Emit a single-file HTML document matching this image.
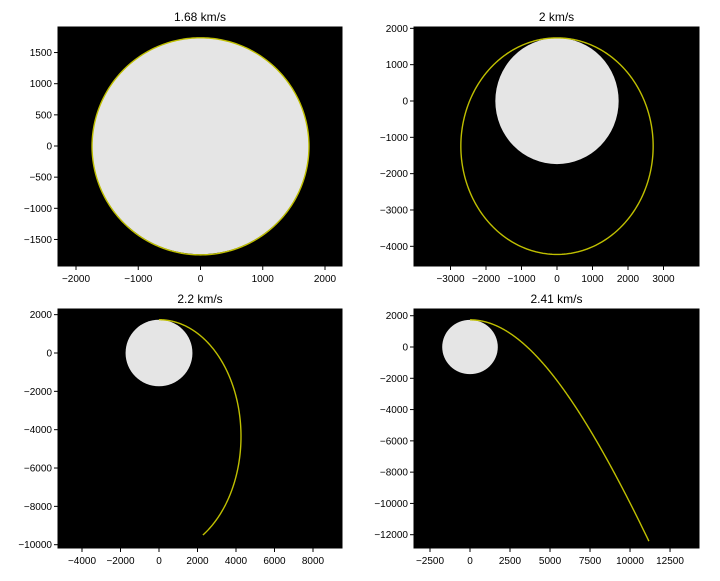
<!DOCTYPE html>
<html><head><meta charset="utf-8"><style>
body{margin:0;background:#fff;width:720px;height:576px;overflow:hidden;font-family:"Liberation Sans",sans-serif}
svg text{font-family:"Liberation Sans",sans-serif}
</style></head><body>
<svg id="fig" width="720" height="576" xmlns="http://www.w3.org/2000/svg"></svg>
<script>
// data
const speeds = [1.68, 2, 2.2, 2.41];           // launch speeds km/s
const titles = ["1.68 km/s", "2 km/s", "2.2 km/s", "2.41 km/s"];
const endAnglesDeg = [360, 360, 166.5, 138];    // final true anomaly of trajectory
const moonRadius = 1737;
const GM = 4902.8;
const xTicks = [[-2000,-1000,0,1000,2000],[-3000,-2000,-1000,0,1000,2000,3000],[-4000,-2000,0,2000,4000,6000,8000],[-2500,0,2500,5000,7500,10000,12500]];
const yTicks = [[-1500,-1000,-500,0,500,1000,1500],[-4000,-3000,-2000,-1000,0,1000,2000],[-10000,-8000,-6000,-4000,-2000,0,2000],[-12000,-10000,-8000,-6000,-4000,-2000,0,2000]];
const xLims = [[-2289,2273],[-4028,4000],[-5247,9506],[-3500,14310]];
const yLims = [[-1926,1910],[-4542,2037],[-10172,2295],[-12850,2430]];

const boxes = [[58,27,284,239],[414,27,285,239],[58,309,284,239],[414,309,285,239]];
const NS="http://www.w3.org/2000/svg";
const svg=document.getElementById('fig');
function mk(tag,attrs,parent){const e=document.createElementNS(NS,tag);for(const k in attrs)e.setAttribute(k,attrs[k]);(parent||svg).appendChild(e);return e;}

speeds.forEach((v,i)=>{
  const [bx,by,bw,bh]=boxes[i];
  const [x0,x1]=xLims[i],[y0,y1]=yLims[i];
  const sx=x=>bx+(x-x0)/(x1-x0)*bw;
  const sy=y=>by+bh-(y-y0)/(y1-y0)*bh;
  const g=mk('g',{});
  
  
  const clipId='c'+i;
  const cp=mk('clipPath',{id:clipId},g);mk('rect',{x:bx,y:by,width:bw,height:bh},cp);
  const bg=mk('rect',{x:bx,y:by,width:bw,height:bh,fill:'#000'},g);
  
  
  const moon=mk('ellipse',{cx:sx(0),cy:sy(0),rx:sx(moonRadius)-sx(0),ry:sy(0)-sy(moonRadius),fill:'#e5e5e5','clip-path':'url(#'+clipId+')'},g);
  
  
  // trajectory from conic
  const r0=moonRadius;
  const eps=v*v/2-GM/r0;
  const a=-GM/(2*eps);
  let e=Math.abs(1-r0/a);
  if(Math.abs(v-Math.sqrt(GM/r0))<0.01) e=0.003;
  const p=r0*(1+e);
  const nMax=endAnglesDeg[i]*Math.PI/180;
  let d='';
  for(let k=0;k<=400;k++){const nu=nMax*k/400;const r=p/(1+e*Math.cos(nu));
    const X=r*Math.sin(nu),Y=r*Math.cos(nu);d+=(k?'L':'M')+sx(X).toFixed(2)+','+sy(Y).toFixed(2);}
  const path=mk('path',{d:d,fill:'none',stroke:'#bfbf00','stroke-width':1.4,'clip-path':'url(#'+clipId+')'},g);
  
  
  // axes frame
  mk('rect',{x:bx,y:by,width:bw,height:bh,fill:'none',stroke:'#000','stroke-width':1},g);
  xTicks[i].forEach(t=>{const X=sx(t);
    mk('line',{x1:X,x2:X,y1:by+bh,y2:by+bh+4,stroke:'#000'},g);
    const tx=mk('text',{x:X,y:by+bh+16,'font-size':10,'text-anchor':'middle'},g);tx.textContent=String(t).replace('-','\u2212');
    
    });
  yTicks[i].forEach(t=>{const Y=sy(t);
    mk('line',{x1:bx-4,x2:bx,y1:Y,y2:Y,stroke:'#000'},g);
    const tx=mk('text',{x:bx-6,y:Y+3.5,'font-size':10,'text-anchor':'end'},g);tx.textContent=String(t).replace('-','\u2212');
    
    });
  const ti=mk('text',{x:bx+bw/2,y:by-6,'font-size':12,'text-anchor':'middle'},g);ti.textContent=titles[i];
  
  
});
</script>
</body></html>
